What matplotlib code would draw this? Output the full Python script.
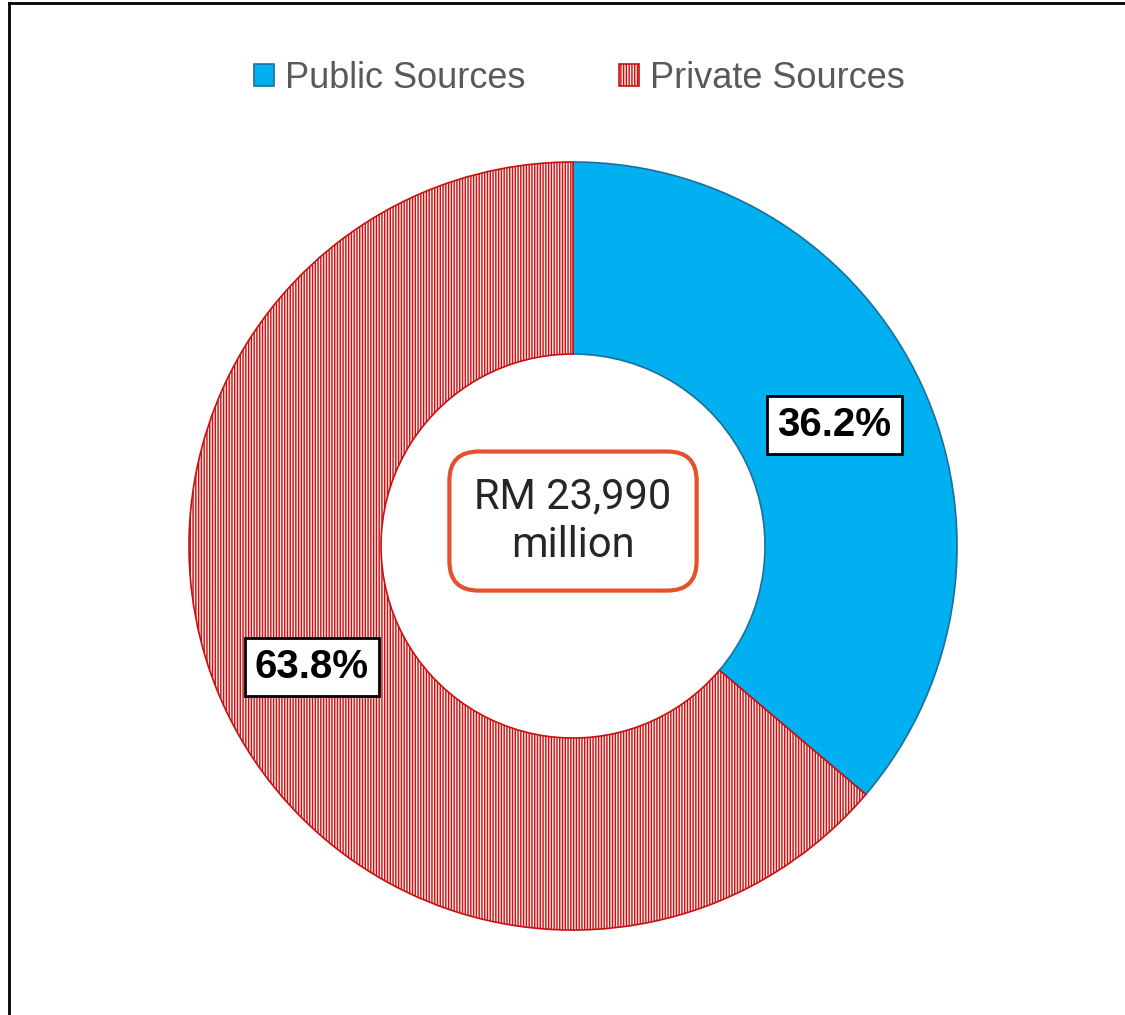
import matplotlib.pyplot as plt
from matplotlib.lines import Line2D

labels = ['Public Sources', 'Private Sources']
shares = [36.2, 63.8]
total_text = 'RM 23,990\nmillion'

fills = ['#00B0F0', '#FFEAEA']
edges = ['#1B6F9A', '#C81010']
hatches = [None, '|' * 6]

plt.rcParams['hatch.linewidth'] = 1.0

fig = plt.figure(figsize=(11.25, 10.15), dpi=100)
ax = fig.add_axes([0.168, 0.0837, 0.6827, 0.7567])

wedges, texts, autotexts = ax.pie(
    shares, labels=None, startangle=90, counterclock=False,
    colors=fills, autopct='%.1f%%', pctdistance=0.75,
    wedgeprops=dict(width=0.5, linewidth=1.2),
    textprops=dict(fontsize=29, fontweight='bold', color='black',
                   family=['Liberation Sans', 'DejaVu Sans']))
for w, ec, h in zip(wedges, edges, hatches):
    w.set_edgecolor(ec)
    if h:
        w.set_hatch(h)
for t in autotexts:
    t.set_bbox(dict(boxstyle='square,pad=0.25', facecolor='white',
                    edgecolor='black', linewidth=2))
ax.set_xlim(-1, 1)
ax.set_ylim(-1, 1)
ax.set_aspect('equal')
ax.axis('off')

ax.text(0, 0.065, total_text, ha='center', va='center', fontsize=30,
        color='#262626', family=['Roboto', 'DejaVu Sans'],
        linespacing=1.22,
        bbox=dict(boxstyle='round,pad=0.6,rounding_size=0.7', facecolor='white',
                  edgecolor='#E5512A', linewidth=3))

fig.legend(wedges, labels, loc='center', bbox_to_anchor=(0.515, 0.923),
           ncol=2, frameon=False, handlelength=0.55, handleheight=0.55,
           handletextpad=0.3, columnspacing=2.6,
           prop=dict(family=['Liberation Sans', 'DejaVu Sans'], size=26),
           labelcolor='#595959')

fig.add_artist(Line2D([9 / 1125, 1], [1 - 3 / 1015, 1 - 3 / 1015],
                      transform=fig.transFigure, color='black', lw=2))
fig.add_artist(Line2D([9 / 1125, 9 / 1125], [0, 1 - 3 / 1015],
                      transform=fig.transFigure, color='black', lw=2))

fig.savefig('out.png', dpi=100)
